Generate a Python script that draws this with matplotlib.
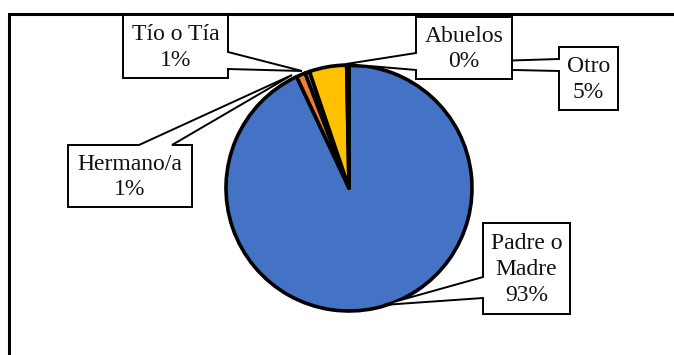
import textwrap

import matplotlib
matplotlib.use("Agg")
import matplotlib.pyplot as plt
from matplotlib.patches import Polygon

# share of respondents by relationship
categories = ["Padre o Madre", "Hermano/a", "Tío o Tía", "Otro", "Abuelos"]
values = [93.0, 1.2, 0.6, 4.9, 0.3]
colors = ["#4472C4", "#ED7D31", "#A5A5A5", "#FFC000", "#5B9BD5"]

W, H = 674, 355
plt.rcParams["font.family"] = ["Liberation Serif", "DejaVu Serif"]

fig = plt.figure(figsize=(W / 100, H / 100), dpi=100)
ax = fig.add_axes([0, 0, 1, 1])


def px(x, y):
    # pixel coords (origin top-left) -> axes data coords
    return x, H - y


ax.pie(values, colors=colors, startangle=90, counterclock=False,
       center=px(349, 188), radius=123,
       wedgeprops=dict(edgecolor="black", linewidth=2.6, joinstyle="round"))

# pie() sets its own limits, so fix the pixel frame afterwards
ax.set_xlim(0, W)
ax.set_ylim(0, H)
ax.set_aspect("equal")
ax.axis("off")

# chart area frame
ax.plot(*zip(px(9, H + 5), px(9, 14), px(W + 5, 14)), color="black", lw=2.2,
        solid_joinstyle="miter", clip_on=False)


def callout(box, side, base, tip, text, z):
    x0, y0, x1, y1 = box
    b0, b1 = base
    if side == "right":
        pts = [(x0, y0), (x1, y0), (x1, b0), tip, (x1, b1), (x1, y1), (x0, y1)]
    elif side == "left":
        pts = [(x0, y0), (x1, y0), (x1, y1), (x0, y1), (x0, b1), tip, (x0, b0)]
    else:  # top
        pts = [(x0, y0), (b0, y0), tip, (b1, y0), (x1, y0), (x1, y1), (x0, y1)]
    ax.add_patch(Polygon([px(*p) for p in pts], closed=True, facecolor="white",
                         edgecolor="black", lw=1.4, joinstyle="miter", zorder=z))
    ax.text(*px((x0 + x1) / 2, (y0 + y1) / 2 + 1), text, ha="center", va="center",
            fontsize=17, linespacing=1.3, color="#111111", zorder=z + 0.5)


layout = {
    "Padre o Madre": ((483, 223, 570, 314), "left", (277, 298), (383, 305)),
    "Hermano/a": ((68, 145, 192, 207), "top", (139, 172), (292, 75)),
    "Tío o Tía": ((123, 15, 228, 78), "right", (52, 69), (302, 71)),
    "Otro": ((559, 47, 618, 110), "left", (59, 71), (336, 66)),
    "Abuelos": ((416, 17, 512, 79), "left", (53, 70), (346, 64)),
}

for i, (name, val) in enumerate(zip(categories, values)):
    box, side, base, tip = layout[name]
    label = textwrap.fill(name, 9) + "\n" + f"{val:.0f}%"
    callout(box, side, base, tip, label, 5 + i)

fig.savefig("out.png", dpi=100)
